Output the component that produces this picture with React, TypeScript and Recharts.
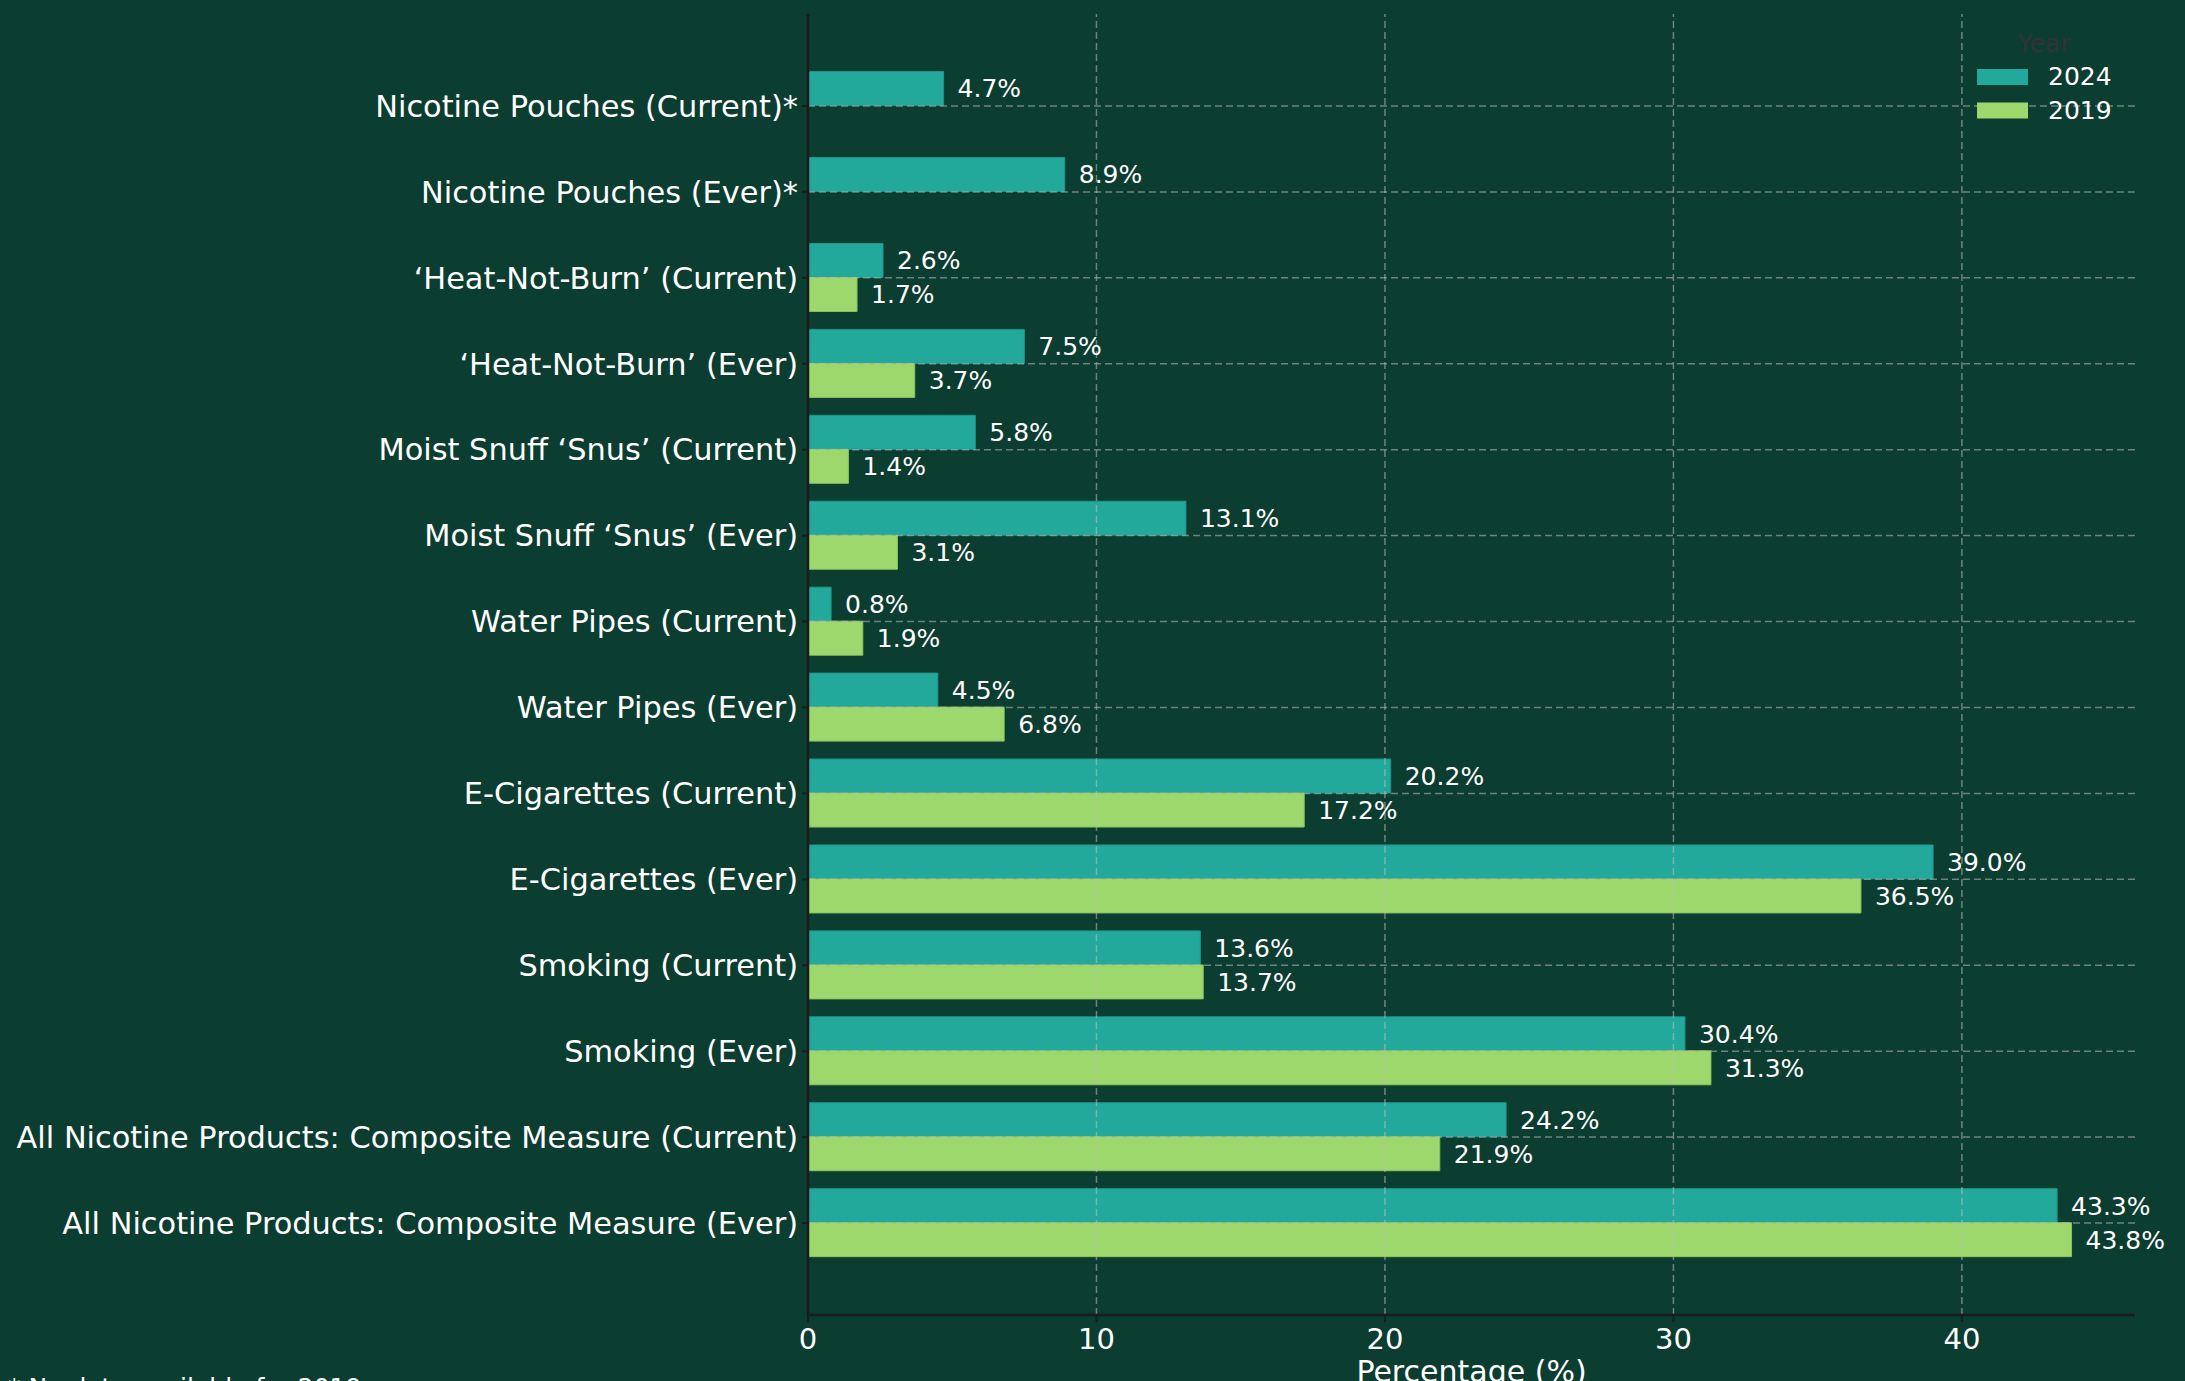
import React from 'react'
import { BarChart, Bar, XAxis, YAxis, ReferenceLine, LabelList, Label } from 'recharts'

const categories = [
  'Nicotine Pouches (Current)*',
  'Nicotine Pouches (Ever)*',
  '‘Heat-Not-Burn’ (Current)',
  '‘Heat-Not-Burn’ (Ever)',
  'Moist Snuff ‘Snus’ (Current)',
  'Moist Snuff ‘Snus’ (Ever)',
  'Water Pipes (Current)',
  'Water Pipes (Ever)',
  'E-Cigarettes (Current)',
  'E-Cigarettes (Ever)',
  'Smoking (Current)',
  'Smoking (Ever)',
  'All Nicotine Products: Composite Measure (Current)',
  'All Nicotine Products: Composite Measure (Ever)',
]
const values2024 = [4.7, 8.9, 2.6, 7.5, 5.8, 13.1, 0.8, 4.5, 20.2, 39.0, 13.6, 30.4, 24.2, 43.3]
const values2019 = [null, null, 1.7, 3.7, 1.4, 3.1, 1.9, 6.8, 17.2, 36.5, 13.7, 31.3, 21.9, 43.8]
const xTicks = [0, 10, 20, 30, 40]
const seriesNames = ['2024', '2019']

const BG = '#0b3d30'
const TEAL = '#23a99b'
const GREEN = '#9dd86d'
const AXIS = '#1b1b1b'
const GRID = 'rgba(190,190,190,0.55)'
const FONT = "'DejaVu Sans', sans-serif"

const data = categories.map((name, i) => ({ name, y2024: values2024[i], y2019: values2019[i] }))

const fmtPct = (v: any) => (v == null ? '' : `${Number(v).toFixed(1)}%`)

export default function App() {
  const colors = [TEAL, GREEN]
  return (
    <div style={{ position: 'absolute', left: 0, top: 0, width: 2185, height: 1381, background: BG, fontFamily: FONT, overflow: 'hidden' }}>
      <BarChart
        width={2185}
        height={1381}
        data={data}
        layout="vertical"
        margin={{ top: 14, right: 50, bottom: 0, left: 0 }}
        barCategoryGap="10%"
        barGap={0}
      >
        <XAxis
          type="number"
          domain={[0, 46]}
          ticks={xTicks}
          allowDataOverflow
          height={66}
          tick={{ fill: '#ffffff', fontSize: 29 }}
          tickSize={7}
          tickMargin={6}
          axisLine={{ stroke: AXIS, strokeWidth: 2.5 }}
          tickLine={{ stroke: AXIS, strokeWidth: 2 }}
        >
          <Label value="Percentage (%)" position="insideBottom" offset={-1} fill="#ffffff" fontSize={30} />
        </XAxis>
        <YAxis
          type="category"
          dataKey="name"
          width={808}
          interval={0}
          padding={{ top: 49, bottom: 49 }}
          tick={{ fill: '#ffffff', fontSize: 30.4 }}
          tickSize={6}
          tickMargin={4}
          axisLine={{ stroke: AXIS, strokeWidth: 2.5 }}
          tickLine={{ stroke: AXIS, strokeWidth: 2 }}
        />
        <Bar dataKey="y2024" name="2024" fill={TEAL} stroke="#1f978a" strokeWidth={1} isAnimationActive={false}>
          <LabelList dataKey="y2024" position="right" offset={14} formatter={fmtPct} fill="#ffffff" fontSize={25} />
        </Bar>
        <Bar dataKey="y2019" name="2019" fill={GREEN} stroke="#8cc45f" strokeWidth={1} isAnimationActive={false}>
          <LabelList dataKey="y2019" position="right" offset={14} formatter={fmtPct} fill="#ffffff" fontSize={25} />
        </Bar>
        {xTicks.filter((t) => t > 0).map((t) => (
          <ReferenceLine key={`v${t}`} x={t} stroke={GRID} strokeDasharray="7 4" strokeWidth={1.5} />
        ))}
        {categories.map((c) => (
          <ReferenceLine key={`h${c}`} y={c} stroke={GRID} strokeDasharray="7 4" strokeWidth={1.5} />
        ))}
      </BarChart>
      <svg width={2185} height={1381} style={{ position: 'absolute', left: 0, top: 0, pointerEvents: 'none' }}>
        <text x={2044} y={52} fill="#333333" fontSize={25} textAnchor="middle" fontFamily={FONT}>Year</text>
        {seriesNames.map((s, i) => (
          <g key={s}>
            <rect x={1977} y={69 + i * 33.5} width={51} height={16} fill={colors[i]} />
            <text x={2048} y={85 + i * 33.5} fill="#ffffff" fontSize={25} fontFamily={FONT}>{s}</text>
          </g>
        ))}
        <text x={8} y={1396} fill="#ffffff" fontSize={25} fontFamily={FONT}>* No data available for 2019</text>
      </svg>
    </div>
  )
}
